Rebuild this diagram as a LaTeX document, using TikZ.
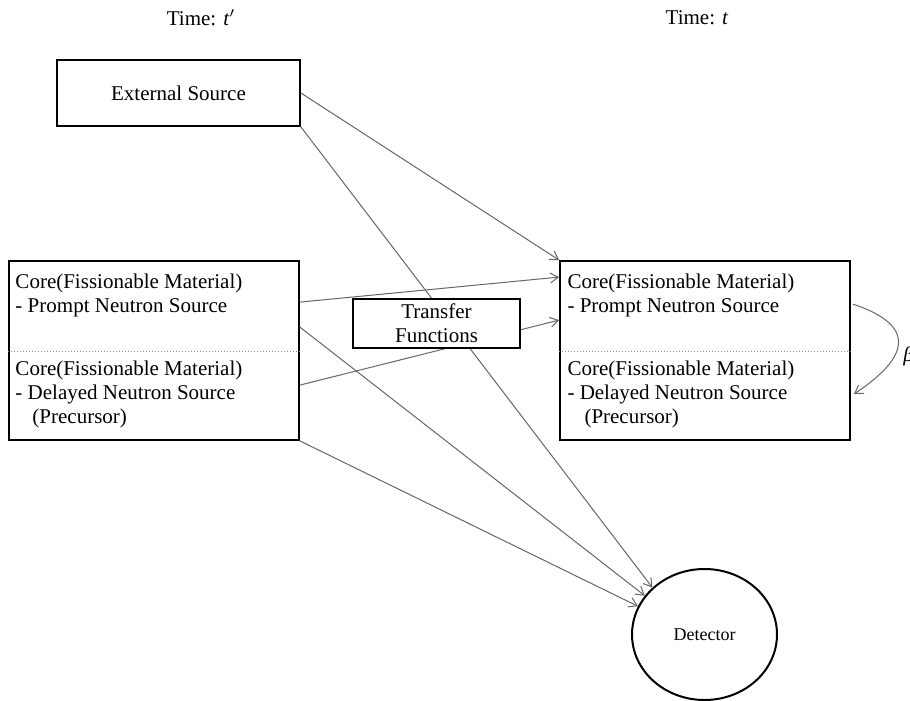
\documentclass[tikz,border=0pt]{standalone}
\usepackage{fontspec}
\setmainfont{Liberation Serif}
\usetikzlibrary{shapes.geometric,arrows.meta,calc}

\begin{document}
\begin{tikzpicture}[x=0.5pt,y=-0.5pt,
  every node/.style={font=\fontsize{10.5}{12}\selectfont},
  blk/.style={draw, line width=0.9pt, fill=white, inner sep=0pt},
  txt/.style={align=left, inner sep=0pt, anchor=north west},
  divider/.style={black!45, line width=0.5pt, densely dotted},
  link/.style={black!60, line width=0.5pt, -{Straight Barb[length=4pt,width=5pt]}}]

\useasboundingbox (0,0) rectangle (910,701);

% time labels
\node (tprev) at (201,18) {Time: \textit{t}$'$};
\node (tnow) at (697,18) {Time: \textit{t}};

% source boxes
\node[blk, minimum width=121.5pt, minimum height=33pt] (ext) at (178.5,93) {External Source};
\node[blk, minimum width=145pt, minimum height=89.5pt] (coreL) at (154,350.5) {};
\node[blk, minimum width=145pt, minimum height=89.5pt] (coreR) at (705,350.5) {};

%dividers
\draw[divider] ($(coreL.north west)+(0,91)$) -- ($(coreL.north east)+(0,91)$);
\draw[divider] ($(coreR.north west)+(0,91)$) -- ($(coreR.north east)+(0,91)$);

% box texts
\node[txt] (pLtxt) at ($(coreL.north west)+(7,13.5)$) {Core(Fissionable Material)\\- Prompt Neutron Source};
\node[txt] (dLtxt) at ($(coreL.north west)+(7,100.5)$) {Core(Fissionable Material)\\- Delayed Neutron Source\\\hspace*{8.5pt}(Precursor)};
\node[txt] (pRtxt) at ($(coreR.north west)+(8,13.5)$) {Core(Fissionable Material)\\- Prompt Neutron Source};
\node[txt] (dRtxt) at ($(coreR.north west)+(8,100.5)$) {Core(Fissionable Material)\\- Delayed Neutron Source\\\hspace*{8.5pt}(Precursor)};

% detector
\node[draw, ellipse, line width=1pt, inner sep=0pt, minimum width=72.5pt, minimum height=65.5pt,
  font=\fontsize{9}{11}\selectfont] (det) at (704.5,634.5) {Detector};

%connections
\draw[link] (ext.east) -- (coreR.north west);
\draw[link] (ext.south east) -- (det.138);
\draw[link] ($(coreL.north east)+(0,42)$) -- ($(coreR.north west)+(0,17)$);
\draw[link] ($(coreL.north east)+(0,67)$) -- (det.147);
\draw[link] ($(coreL.north east)+(0,125)$) -- ($(coreR.north west)+(0,60)$);
\draw[link] (coreL.south east) -- (det.157);

% feedback prompt -> delayed
\draw[link] ($(coreR.north east)+(2,44)$) .. controls +(60,20) and +(60,-40) .. ($(coreR.north east)+(3,134)$);
\node[anchor=base west, inner sep=0pt] (frac) at (903,361) {\textit{β}};

% transfer box on top of the lines
\node[blk, minimum width=83.5pt, minimum height=24.5pt, align=center] (tf) at (436.5,323.5) {Transfer\\Functions};

\end{tikzpicture}
\end{document}
